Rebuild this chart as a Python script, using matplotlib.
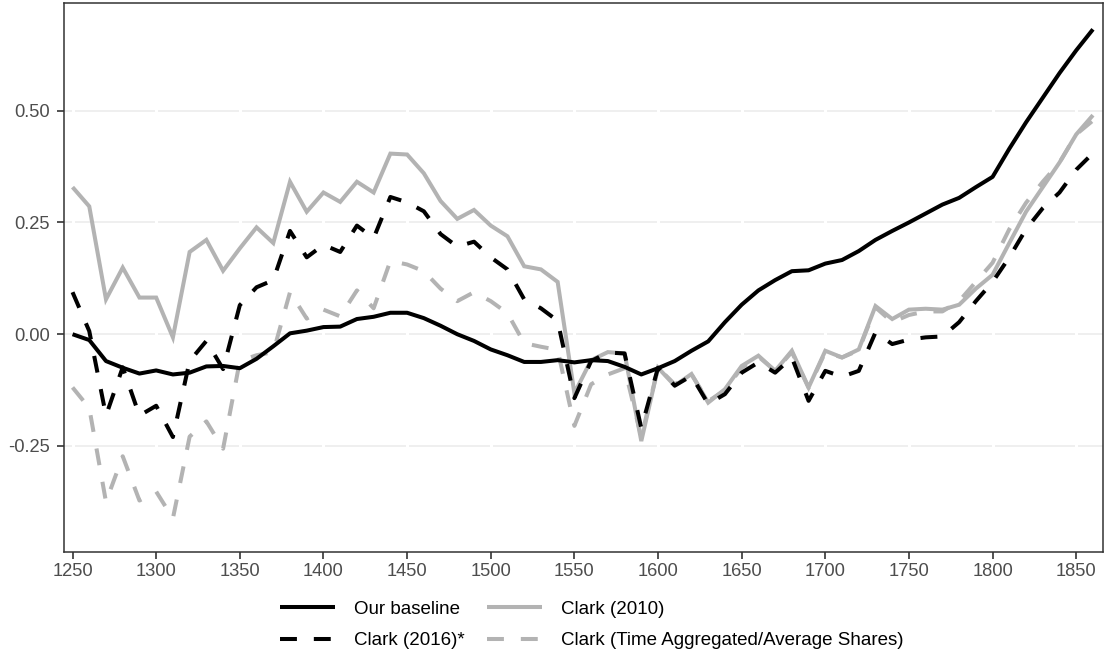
import matplotlib
matplotlib.use("Agg")
import matplotlib.pyplot as plt
from matplotlib.lines import Line2D

plt.rcParams['font.family'] = ['Liberation Sans', 'DejaVu Sans']

years = list(range(1250, 1861, 10))

baseline = [
    0.000, -0.013, -0.060, -0.075, -0.088, -0.081, -0.090, -0.086, -0.072, -0.071,
    -0.076, -0.055, -0.027, 0.002, 0.008, 0.016, 0.017, 0.034, 0.039, 0.048,
    0.048, 0.036, 0.019, 0.000, -0.015, -0.034, -0.047, -0.062, -0.062, -0.058,
    -0.063, -0.058, -0.060, -0.073, -0.090, -0.076, -0.060, -0.037, -0.016, 0.027,
    0.066, 0.098, 0.121, 0.141, 0.143, 0.158, 0.166, 0.186, 0.211, 0.231,
    0.250, 0.270, 0.290, 0.305, 0.329, 0.352, 0.415, 0.474, 0.529, 0.584,
    0.635, 0.682,
]

clark_2010 = [
    0.329, 0.286, 0.078, 0.149, 0.082, 0.082, -0.007, 0.184, 0.211, 0.142,
    0.192, 0.239, 0.204, 0.341, 0.274, 0.317, 0.296, 0.341, 0.317, 0.404,
    0.402, 0.360, 0.298, 0.258, 0.278, 0.243, 0.219, 0.152, 0.145, 0.117,
    -0.132, -0.058, -0.040, -0.043, -0.239, -0.075, -0.115, -0.089, -0.153, -0.123,
    -0.071, -0.048, -0.082, -0.037, -0.119, -0.037, -0.052, -0.034, 0.063, 0.034,
    0.055, 0.057, 0.055, 0.066, 0.102, 0.133, 0.204, 0.274, 0.329, 0.384,
    0.447, 0.490,
]

clark_2016 = [
    0.094, 0.007, -0.182, -0.074, -0.182, -0.160, -0.230, -0.060, -0.015, -0.078,
    0.065, 0.105, 0.121, 0.231, 0.172, 0.200, 0.184, 0.243, 0.215, 0.307,
    0.295, 0.275, 0.224, 0.196, 0.207, 0.172, 0.145, 0.078, 0.058, 0.030,
    -0.143, -0.060, -0.041, -0.043, -0.210, -0.075, -0.115, -0.093, -0.156, -0.134,
    -0.086, -0.063, -0.086, -0.052, -0.149, -0.082, -0.095, -0.082, 0.004, -0.022,
    -0.012, -0.007, -0.005, 0.027, 0.074, 0.117, 0.172, 0.235, 0.282, 0.317,
    0.368, 0.405,
]

clark_time_agg = [
    -0.119, -0.165, -0.375, -0.273, -0.372, -0.352, -0.412, -0.229, -0.195, -0.256,
    -0.060, -0.047, -0.040, 0.094, 0.035, 0.055, 0.040, 0.098, 0.058, 0.164,
    0.156, 0.141, 0.102, 0.074, 0.094, 0.074, 0.047, -0.020, -0.028, -0.035,
    -0.205, -0.112, -0.090, -0.076, -0.230, -0.075, -0.112, -0.090, -0.150, -0.125,
    -0.075, -0.050, -0.082, -0.040, -0.120, -0.040, -0.052, -0.036, 0.060, 0.027,
    0.043, 0.051, 0.051, 0.074, 0.117, 0.160, 0.235, 0.294, 0.341, 0.384,
    0.447, 0.478,
]

x_ticks = list(range(1250, 1851, 50))
y_ticks = [-0.25, 0.00, 0.25, 0.50]
y_tick_labels = ["-0.25", "0.00", "0.25", "0.50"]

labels = ["Our baseline", "Clark (2016)*", "Clark (2010)",
          "Clark (Time Aggregated/Average Shares)"]

BLACK = "#000000"
GREY = "#B3B3B3"
LW = 2.9
DASH = (0, (4.2, 4.2))

fig = plt.figure(figsize=(11.06, 6.57), dpi=100)
ax = fig.add_axes([63.5 / 1106, 1 - 551.5 / 657, (1103 - 63.5) / 1106, (551.5 - 2.5) / 657])

ax.set_xlim(1244.6, 1866)
ax.set_ylim(-0.486, 0.742)

# horizontal grid, broken by white vertical lines at the x ticks
for yv in y_ticks:
    ax.axhline(yv, color="#EBEBEB", lw=1.1, zorder=0.5)
for xv in x_ticks:
    ax.axvline(xv, color="white", lw=2.2, zorder=0.6)

ax.plot(years, clark_2010, color=GREY, lw=LW, solid_capstyle="butt",
        solid_joinstyle="miter", zorder=2)
ax.plot(years, clark_time_agg, color=GREY, lw=LW, linestyle=DASH,
        dash_capstyle="butt", zorder=2.1)
ax.plot(years, clark_2016, color=BLACK, lw=LW, linestyle=DASH,
        dash_capstyle="butt", zorder=2.2)
ax.plot(years, baseline, color=BLACK, lw=LW, solid_capstyle="butt", zorder=3)

ax.set_xticks(x_ticks)
ax.set_xticklabels([str(v) for v in x_ticks])
ax.set_yticks(y_ticks)
ax.set_yticklabels(y_tick_labels)
ax.tick_params(axis="both", length=5, width=1.2, color="#333333",
               labelcolor="#4D4D4D", labelsize=13.2)
ax.tick_params(axis="x", pad=3.6)
ax.tick_params(axis="y", pad=4.8)

for sp in ax.spines.values():
    sp.set_color("#333333")
    sp.set_linewidth(1.1)

handles = [
    Line2D([], [], color=BLACK, lw=LW, solid_capstyle="butt"),
    Line2D([], [], color=BLACK, lw=LW, linestyle=DASH, dash_capstyle="butt"),
    Line2D([], [], color=GREY, lw=LW, solid_capstyle="butt"),
    Line2D([], [], color=GREY, lw=LW, linestyle=DASH, dash_capstyle="butt"),
]
fig.legend(handles, labels, ncol=2, loc="center",
           bbox_to_anchor=(592 / 1106, 1 - 625 / 657), frameon=False,
           fontsize=13.5, handlelength=2.93, handletextpad=1.0,
           columnspacing=1.2, labelspacing=0.75)

fig.savefig("out.png", dpi=100)
